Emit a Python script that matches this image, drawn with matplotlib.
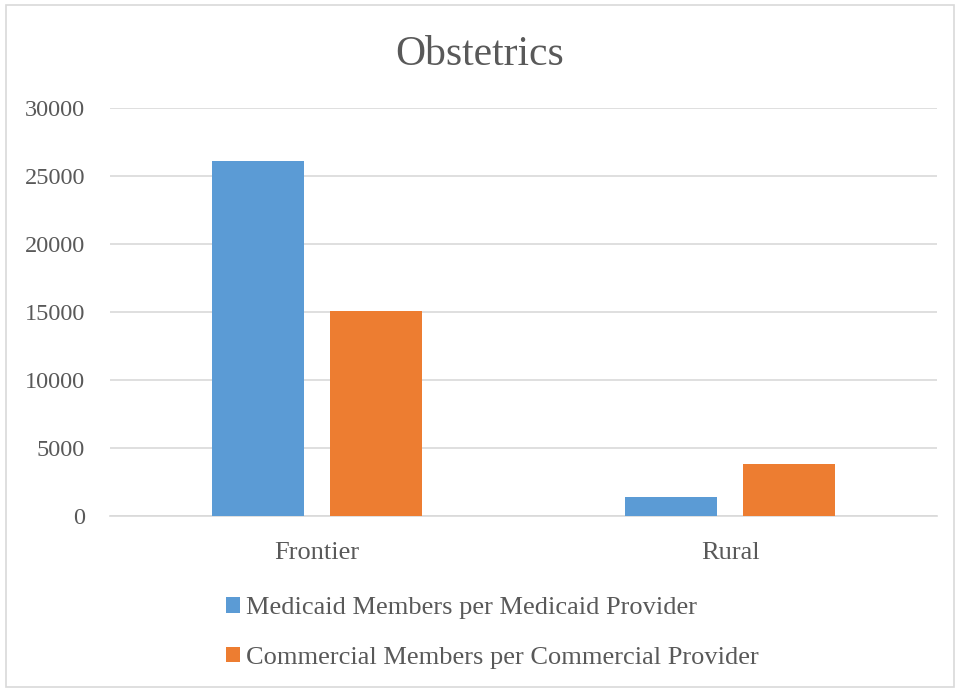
import matplotlib
matplotlib.use("Agg")
import matplotlib.pyplot as plt
import numpy as np
from matplotlib.patches import Rectangle

categories = ["Frontier", "Rural"]
series_names = ["Medicaid Members per Medicaid Provider",
                "Commercial Members per Commercial Provider"]
medicaid = [26100, 1400]
commercial = [15100, 3800]
yticks = [0, 5000, 10000, 15000, 20000, 25000, 30000]

colors = ["#5B9BD5", "#ED7D31"]
text_color = "#595959"
plt.rcParams['font.family'] = ['Liberation Serif', 'DejaVu Serif']

fig = plt.figure(figsize=(9.6, 6.89), dpi=100)
fig.patches.append(Rectangle((0.006, 0.003), 0.988, 0.99, transform=fig.transFigure,
                             fill=False, edgecolor="#d9d9d9", linewidth=1.2))
ax = fig.add_axes([0.1146, 0.251, 0.8614, 0.592])

x = np.arange(len(categories))
w = 0.223
off = 0.143
b1 = ax.bar(x - off, medicaid, w, color=colors[0], label=series_names[0], zorder=3)
b2 = ax.bar(x + off, commercial, w, color=colors[1], label=series_names[1], zorder=3)

ax.set_xlim(-0.5, 1.5)
ax.set_ylim(0, 30000)
ax.set_yticks(yticks)
ax.set_yticklabels([str(v) for v in yticks])
ax.set_xticks(x)
ax.set_xticklabels(categories)
ax.yaxis.grid(True, color="#d9d9d9", linewidth=1.2, zorder=0)
ax.set_axisbelow(True)
for s in ["top", "right", "left"]:
    ax.spines[s].set_visible(False)
ax.spines["bottom"].set_color("#d9d9d9")
ax.spines["bottom"].set_linewidth(1.2)
ax.tick_params(axis="both", length=0, colors=text_color)
ax.tick_params(axis="y", pad=18, labelsize=17.5)
ax.tick_params(axis="x", pad=19, labelsize=19)

fig.text(0.5, 0.9206, "Obstetrics", ha="center", va="center", fontsize=30, color=text_color)

leg = fig.legend(handles=[b1, b2], labels=series_names, loc="center left",
                 bbox_to_anchor=(0.2354, 0.0813), frameon=False, fontsize=19,
                 handlelength=0.53, handleheight=0.53, handletextpad=0.23,
                 borderpad=0, borderaxespad=0,
                 labelspacing=1.05, labelcolor=text_color)

fig.savefig("out.png", dpi=100)
